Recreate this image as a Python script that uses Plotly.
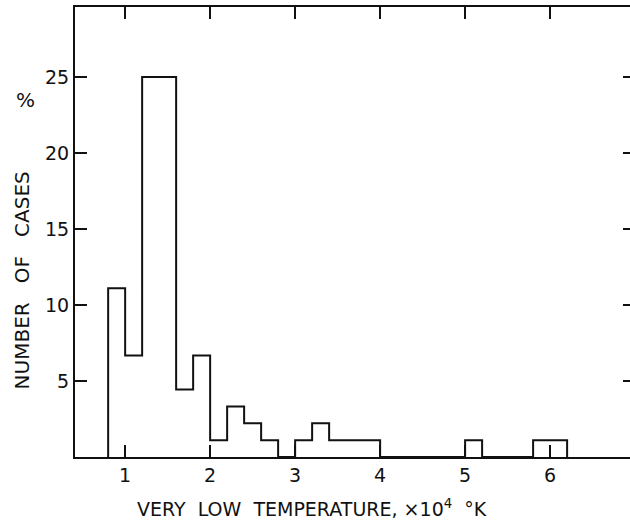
import plotly.graph_objects as go

# Histogram data: left bin edges (x 10^4 K) and percentage of cases
bin_left = [0.8, 1.0, 1.2, 1.4, 1.6, 1.8, 2.0, 2.2, 2.4, 2.6, 2.8, 3.0, 3.2, 3.4,
            3.6, 3.8, 4.0, 4.2, 4.4, 4.6, 4.8, 5.0, 5.2, 5.4, 5.6, 5.8, 6.0]
percent = [11.1, 6.67, 25.0, 25.0, 4.44, 6.67, 1.11, 3.33, 2.22, 1.11, 0.0, 1.11, 2.22, 1.11,
           1.11, 1.11, 0.0, 0.0, 0.0, 0.0, 0.0, 1.11, 0.0, 0.0, 0.0, 1.11, 1.11]
bin_width = 0.2

x_ticks = [1, 2, 3, 4, 5, 6]
y_ticks = [5, 10, 15, 20, 25]

# step outline built from the bins
xs = [bin_left[0]] + bin_left + [bin_left[-1] + bin_width]
ys = [0.0] + percent + [0.0]

FONT = "DejaVu Sans"
INK = "#111111"
NB = "\u00a0"

fig = go.Figure()
fig.add_trace(go.Scatter(x=xs, y=ys, mode="lines", line=dict(shape="hv", color=INK, width=2),
                         hoverinfo="skip", showlegend=False))
# invisible trace to hold the right-hand tick axis
fig.add_trace(go.Scatter(x=[1], y=[1], yaxis="y2", mode="markers", marker=dict(opacity=0),
                         showlegend=False, hoverinfo="skip"))

fig.update_layout(
    width=630, height=530,
    margin=dict(l=75, r=0, t=7, b=73),
    paper_bgcolor="white", plot_bgcolor="white",
    font=dict(family=FONT, color=INK),
    xaxis=dict(range=[0.41, 6.94], tickvals=x_ticks, ticktext=[str(v) for v in x_ticks],
               ticks="inside", ticklen=12, tickwidth=2, tickcolor=INK,
               showline=True, linecolor=INK, linewidth=2, mirror="ticks",
               showgrid=False, zeroline=False, tickfont=dict(size=19, family=FONT)),
    yaxis=dict(range=[0, 29.6], tickvals=y_ticks, ticktext=[str(v) for v in y_ticks],
               ticks="inside", ticklen=12, tickwidth=2, tickcolor=INK,
               showline=True, linecolor=INK, linewidth=2, mirror=False,
               showgrid=False, zeroline=False, tickfont=dict(size=19, family=FONT)),
    yaxis2=dict(range=[0, 29.6], overlaying="y", side="right", tickvals=y_ticks,
                showticklabels=False, ticks="inside", ticklen=7, tickwidth=2, tickcolor=INK,
                showline=False, showgrid=False, zeroline=False),
    annotations=[
        dict(text="VERY" + NB * 2 + "LOW" + NB * 2 + "TEMPERATURE," + NB + "×10<sup>4</sup>" + NB * 2 + "°K",
             xref="paper", yref="paper",
             x=0.427, y=-0.113, showarrow=False, xanchor="center", yanchor="middle",
             font=dict(size=19, family=FONT, color=INK)),
        dict(text="NUMBER" + NB * 3 + "OF" + NB * 3 + "CASES", xref="paper", yref="paper",
             x=-0.095, y=0.393,
             textangle=-90, showarrow=False, xanchor="center", yanchor="middle",
             font=dict(size=20, family=FONT, color=INK)),
        dict(text="%", xref="paper", yref="paper", x=-0.09, y=0.793, showarrow=False,
             xanchor="center", yanchor="middle", font=dict(size=20, family=FONT, color=INK)),
    ],
)

fig.write_html("out.html")
